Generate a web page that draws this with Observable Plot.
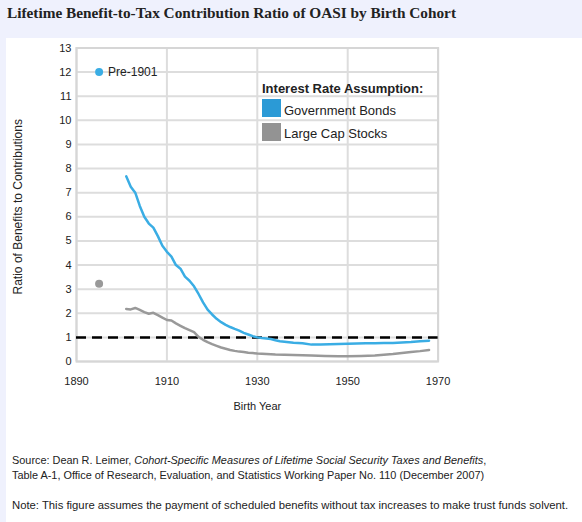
<!DOCTYPE html>
<html>
<head>
<meta charset="utf-8">
<script src="https://cdn.jsdelivr.net/npm/d3@7"></script>
<script src="https://cdn.jsdelivr.net/npm/@observablehq/plot@0.6"></script>
<style>
  html, body { margin: 0; padding: 0; }
  body { width: 582px; height: 522px; background: #eff1fd; position: relative; overflow: hidden; font-family: "Liberation Sans", Arial, sans-serif; color: #222; }
  #title { position: absolute; left: 7px; top: 4px; font-family: "Liberation Serif", "DejaVu Serif", serif; font-weight: bold; font-size: 15.3px; color: #222; white-space: nowrap; }
  #panel { position: absolute; left: 6px; top: 38px; right: 0; bottom: 0; background: #fff; }
  #chart { position: absolute; left: 0; top: 0; }
  .leg { position: absolute; font-size: 13px; color: #222; white-space: nowrap; line-height: 1; }
  .sw { position: absolute; width: 19px; height: 18px; }
  .foot { position: absolute; left: 6px; font-size: 10.9px; color: #222; white-space: nowrap; line-height: 1; }
</style>
</head>
<body>
<div id="title">Lifetime Benefit-to-Tax Contribution Ratio of OASI by Birth Cohort</div>
<div id="panel">
  <div id="chart"></div>
  <div class="leg" style="left:256px; top:44px; font-weight:bold;">Interest Rate Assumption:</div>
  <div class="sw" style="left:256px; top:61px; background:#2b9ad6;"></div>
  <div class="leg" style="left:278px; top:66px;">Government Bonds</div>
  <div class="sw" style="left:256px; top:85px; background:#939393;"></div>
  <div class="leg" style="left:278px; top:89px;">Large Cap Stocks</div>
  <div class="foot" style="top:417px;">Source: Dean R. Leimer, <i>Cohort-Specific Measures of Lifetime Social Security Taxes and Benefits</i>,</div>
  <div class="foot" style="top:432px;">Table A-1, Office of Research, Evaluation, and Statistics Working Paper No. 110 (December 2007)</div>
  <div class="foot" style="top:462px; font-size:11.3px;">Note: This figure assumes the payment of scheduled benefits without tax increases to make trust funds solvent.</div>
</div>
<script>
// Birth cohorts (years) and ratios of lifetime benefits to contributions
const bondYears = [1901,1902,1903,1904,1905,1906,1907,1908,1909,1910,1911,1912,1913,1914,1915,1916,1917,1918,1919,1920,1921,1922,1923,1924,1925,1926,1927,1928,1929,1930,1931,1932,1933,1934,1935,1936,1937,1938,1940,1942,1944,1946,1948,1950,1952,1954,1956,1958,1960,1962,1964,1966,1968];
const bondRatio = [7.68,7.25,7.0,6.45,6.0,5.72,5.55,5.2,4.8,4.55,4.35,4.0,3.85,3.52,3.35,3.12,2.8,2.45,2.15,1.95,1.77,1.63,1.52,1.43,1.35,1.28,1.19,1.12,1.05,1.0,0.97,0.95,0.93,0.88,0.84,0.82,0.8,0.78,0.76,0.7,0.71,0.72,0.73,0.74,0.75,0.76,0.76,0.77,0.77,0.79,0.81,0.84,0.86];
const stockYears = [1901,1902,1903,1904,1905,1906,1907,1908,1909,1910,1911,1912,1913,1914,1915,1916,1917,1918,1919,1920,1921,1922,1923,1924,1925,1926,1927,1928,1929,1930,1932,1934,1936,1938,1940,1942,1945,1948,1950,1953,1956,1958,1960,1962,1964,1966,1968];
const stockRatio = [2.18,2.16,2.22,2.14,2.05,1.98,2.02,1.92,1.82,1.72,1.7,1.58,1.48,1.38,1.3,1.22,1.02,0.9,0.8,0.72,0.65,0.58,0.53,0.48,0.44,0.41,0.39,0.36,0.35,0.33,0.31,0.29,0.28,0.27,0.26,0.25,0.23,0.22,0.22,0.23,0.25,0.28,0.31,0.35,0.39,0.43,0.48];
// Pre-1901 cohorts
const preYear = 1895;
const preBond = 12.0;
const preStock = 3.22;
const preLabel = "Pre-1901";
const breakEven = 1;
const xTicks = [1890, 1910, 1930, 1950, 1970];
const yTicks = d3.range(0, 14);
const xDomain = [1890, 1970];
const yDomain = [0, 13];

const bonds = bondYears.map((y, i) => ({year: y, ratio: bondRatio[i]}));
const stocks = stockYears.map((y, i) => ({year: y, ratio: stockRatio[i]}));

const blue = "#3aade4";
const gray = "#999999";

const chart = Plot.plot({
  width: 576,
  height: 383,
  marginLeft: 70,
  marginRight: 144.4,
  marginTop: 9.5,
  marginBottom: 60,
  style: {fontFamily: "Liberation Sans, Arial, sans-serif", fontSize: "11px", color: "#222", background: "transparent", overflow: "visible"},
  x: {domain: xDomain, ticks: xTicks, label: null},
  y: {domain: yDomain, ticks: yTicks, label: null},
  marks: [
    Plot.gridY(yTicks, {stroke: "#dddddd", strokeWidth: 2, strokeOpacity: 1}),
    Plot.gridX(xTicks, {stroke: "#dddddd", strokeWidth: 2, strokeOpacity: 1}),
    Plot.frame({stroke: "#d6d6d6", strokeWidth: 2}),
    Plot.axisX(xTicks, {tickSize: 0, tickPadding: 16, fontSize: 11, tickFormat: d => String(d)}),
    Plot.axisY(yTicks, {tickSize: 0, tickPadding: 5, fontSize: 11}),
    Plot.ruleY([breakEven], {stroke: "#000", strokeWidth: 2.5, strokeDasharray: "10,6"}),
    Plot.line(stocks, {x: "year", y: "ratio", stroke: gray, strokeWidth: 2.5}),
    Plot.line(bonds, {x: "year", y: "ratio", stroke: blue, strokeWidth: 2.5}),
    Plot.dot([{year: preYear, ratio: preStock}], {x: "year", y: "ratio", r: 4, fill: gray}),
    Plot.dot([{year: preYear, ratio: preBond}], {x: "year", y: "ratio", r: 4, fill: blue}),
    Plot.text([{year: preYear, ratio: preBond}], {x: "year", y: "ratio", text: () => preLabel, textAnchor: "start", dx: 9, fontSize: 12, fill: "#222"}),
    Plot.text(["Birth Year"], {frameAnchor: "bottom", dy: 48, fontSize: 11, fill: "#222"}),
    Plot.text(["Ratio of Benefits to Contributions"], {frameAnchor: "left", textAnchor: "middle", rotate: -90, dx: -58, dy: 2, fontSize: 12, fill: "#222"})
  ]
});
document.getElementById("chart").appendChild(chart);
</script>
</body>
</html>
